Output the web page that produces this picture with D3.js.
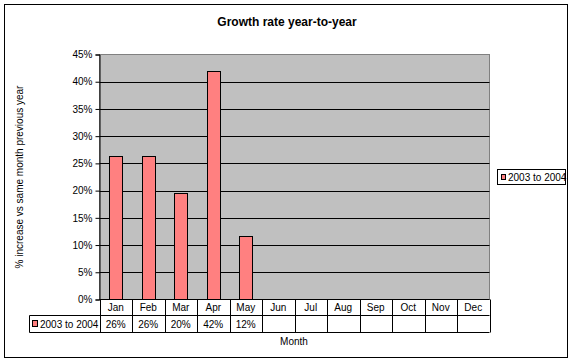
<!DOCTYPE html>
<html><head><meta charset="utf-8">
<script src="https://cdn.jsdelivr.net/npm/d3@7"></script>
<style>body{margin:0;background:#fff}svg{display:block;font-family:"Liberation Sans",Arial,sans-serif}</style>
</head><body>
<svg id="c" width="574" height="362"></svg>
<script>
const months = ["Jan","Feb","Mar","Apr","May","Jun","Jul","Aug","Sep","Oct","Nov","Dec"];
const seriesName = "2003 to 2004";
const values = [0.264, 0.264, 0.196, 0.419, 0.117, null, null, null, null, null, null, null];
const tableLabels = ["26%","26%","20%","42%","12%","","","","","","",""];
const yTicks = [0,0.05,0.10,0.15,0.20,0.25,0.30,0.35,0.40,0.45];

const svg = d3.select("#c");
const L = 99.5, R = 489.5, T = 54.5, B = 299.5;
svg.append("rect").attr("x",4.5).attr("y",4.5).attr("width",563).attr("height",353).attr("fill","#fff").attr("stroke","#000");

svg.append("text").attr("x",287).attr("y",26).attr("text-anchor","middle").attr("font-size",12).attr("font-weight","bold").text("Growth rate year-to-year");

const x = d3.scaleBand().domain(months).range([L,R]);
const y = d3.scaleLinear().domain([0,0.45]).range([B,T]);

svg.append("rect").attr("x",L).attr("y",T).attr("width",R-L).attr("height",B-T).attr("fill","#C0C0C0").attr("stroke","#808080");

svg.append("g").selectAll("line").data(yTicks.slice(1,-1)).join("line")
  .attr("x1",L).attr("x2",R).attr("y1",d=>Math.round(y(d))+0.5).attr("y2",d=>Math.round(y(d))+0.5).attr("stroke","#000");

const yAxis = d3.axisLeft(y).tickValues(yTicks).tickFormat(d3.format(".0%")).tickSize(4).tickPadding(3);
const ga = svg.append("g").attr("transform",`translate(${L},0)`).call(yAxis);
ga.select(".domain").attr("stroke","#000");
ga.selectAll("text").attr("font-size",10).attr("font-family","Liberation Sans, Arial, sans-serif");

const bw = 13;
svg.append("g").selectAll("rect").data(months.map((m,i)=>({m,v:values[i]})).filter(d=>d.v!=null)).join("rect")
  .attr("x",d=>Math.round(x(d.m)+x.bandwidth()/2-bw/2)+0.5).attr("width",bw)
  .attr("y",d=>Math.round(y(d.v))+0.5).attr("height",d=>B-Math.round(y(d.v))-0.5)
  .attr("fill","#FF8080").attr("stroke","#000");

svg.append("line").attr("x1",L).attr("x2",R).attr("y1",B).attr("y2",B).attr("stroke","#000");

// data table
const r1 = B, r2 = 315.5, r3 = 332.5, tl = 29.5;
const tg = svg.append("g").attr("stroke","#000");
tg.append("line").attr("x1",tl).attr("x2",R).attr("y1",r2).attr("y2",r2);
tg.append("line").attr("x1",tl).attr("x2",R).attr("y1",r3).attr("y2",r3);
tg.append("line").attr("x1",tl).attr("x2",tl).attr("y1",r2).attr("y2",r3);
const edges = months.map(m=>x(m)).concat([R]);
tg.selectAll("line.v").data(edges).join("line").attr("class","v")
  .attr("x1",d=>Math.round(d)+0.5).attr("x2",d=>Math.round(d)+0.5).attr("y1",r1).attr("y2",r3);

svg.append("g").selectAll("text").data(months).join("text")
  .attr("x",d=>x(d)+x.bandwidth()/2).attr("y",311).attr("text-anchor","middle").attr("font-size",10).text(d=>d);
svg.append("g").selectAll("text").data(months.map((m,i)=>({m,t:tableLabels[i]}))).join("text")
  .attr("x",d=>x(d.m)+x.bandwidth()/2).attr("y",328).attr("text-anchor","middle").attr("font-size",10).text(d=>d.t);
svg.append("rect").attr("x",32.5).attr("y",320.5).attr("width",5).attr("height",6).attr("fill","#FF8080").attr("stroke","#000");
svg.append("text").attr("x",40).attr("y",328).attr("font-size",10).text(seriesName);

svg.append("text").attr("x",294).attr("y",345).attr("text-anchor","middle").attr("font-size",10).text("Month");
svg.append("text").attr("transform","translate(23,177) rotate(-90)").attr("text-anchor","middle").attr("font-size",10).text("% increase vs same month previous year");

// legend
svg.append("rect").attr("x",497.5).attr("y",169.5).attr("width",68).attr("height",15).attr("fill","#fff").attr("stroke","#000");
svg.append("rect").attr("x",501.5).attr("y",174.5).attr("width",4).attr("height",5).attr("fill","#FF8080").attr("stroke","#000");
svg.append("text").attr("x",508).attr("y",181).attr("font-size",10).text(seriesName);
</script>
</body></html>
